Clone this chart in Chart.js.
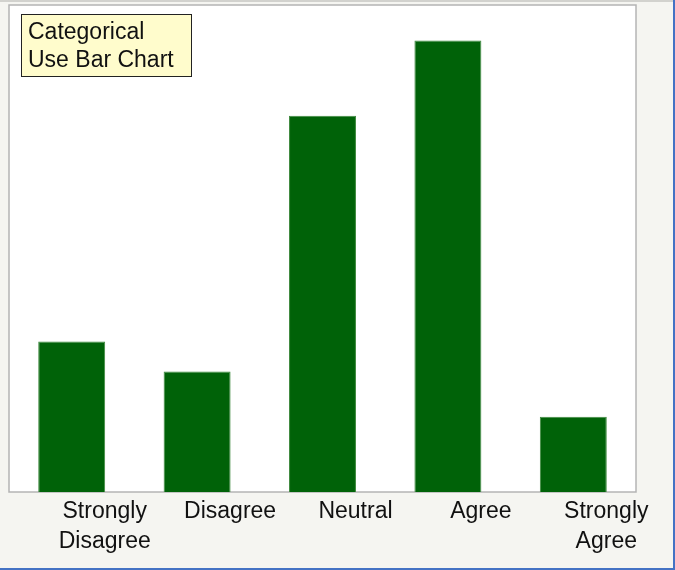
<!DOCTYPE html>
<html>
<head>
<meta charset="utf-8">
<script src="https://cdn.jsdelivr.net/npm/chart.js@4"></script>
<style>
  html, body { margin: 0; padding: 0; background: #f5f5f1; }
  #wrap { position: relative; width: 675px; height: 570px; overflow: hidden; }
  #topline { position: absolute; left: 0; top: 0; width: 675px; height: 2px; background: #d2d2ce; }
  #rightline { position: absolute; right: 0; top: 0; width: 2px; height: 570px; background: #4472c4; }
  #bottomline { position: absolute; left: 0; bottom: 0; width: 675px; height: 2px; background: #4472c4; }
  canvas { position: absolute; left: 0; top: 0; }
</style>
</head>
<body>
<div id="wrap">
  <canvas id="chartBars" width="675" height="570"></canvas>
  <div id="topline"></div>
  <div id="rightline"></div>
  <div id="bottomline"></div>
</div>
<script>
const categories = [['Strongly', 'Disagree'], 'Disagree', 'Neutral', 'Agree', ['Strongly', 'Agree']];
const counts = [20, 16, 50, 60, 10];
const boxLines = ['Categorical', 'Use Bar Chart'];

const ctx_bars = document.getElementById('chartBars').getContext('2d');

// white plot area with grey frame
const plotFrame = {
    id: 'plotFrame',
    beforeDraw(chart) {
        const a = chart.chartArea;
        const c = chart.ctx;
        c.save();
        c.fillStyle = '#ffffff';
        c.fillRect(a.left, a.top, a.right - a.left, a.bottom - a.top);
        c.strokeStyle = '#b4b4b4';
        c.lineWidth = 1.5;
        c.strokeRect(a.left, a.top, a.right - a.left, a.bottom - a.top);
        c.restore();
    }
};

// yellow note box top left
const noteBox = {
    id: 'noteBox',
    afterDraw(chart) {
        const a = chart.chartArea;
        const c = chart.ctx;
        const x = a.left + 12, y = a.top + 9;
        c.save();
        c.fillStyle = '#fffccc';
        c.fillRect(x, y, 171, 63);
        c.strokeStyle = '#222222';
        c.lineWidth = 1;
        c.strokeRect(x + 0.5, y + 0.5, 170, 62);
        c.fillStyle = '#111111';
        c.font = '23px "Liberation Sans", Arial, sans-serif';
        c.textBaseline = 'alphabetic';
        boxLines.forEach((t, i) => c.fillText(t, x + 7, y + 25 + i * 28));
        c.restore();
    }
};

const data_bars = {
    labels: categories,
    datasets: [{
        label: 'Count',
        data: counts,
        backgroundColor: '#006208',
        borderColor: '#3f8a3f',
        borderWidth: 1,
        barPercentage: 0.534,
        categoryPercentage: 1
    }]
};

const config_bars = {
    type: 'bar',
    data: data_bars,
    options: {
        responsive: false,
        animation: false,
        layout: { padding: { left: 9, top: 5, right: 39, bottom: 0 } },
        plugins: {
            legend: { display: false },
            tooltip: { enabled: false }
        },
        scales: {
            x: {
                grid: { display: false, drawTicks: false },
                border: { display: false },
                afterFit: function (scale) { scale.height = 78; },
                ticks: {
                    color: '#111111',
                    font: { family: '"Liberation Sans", Arial, sans-serif', size: 23, lineHeight: 1.3 },
                    padding: 5,
                    labelOffset: 33,
                    maxRotation: 0,
                    autoSkip: false
                }
            },
            y: {
                display: false,
                min: 0,
                max: 64.7
            }
        }
    },
    plugins: [plotFrame, noteBox]
};

const chart_bars = new Chart(ctx_bars, config_bars);
</script>
</body>
</html>
